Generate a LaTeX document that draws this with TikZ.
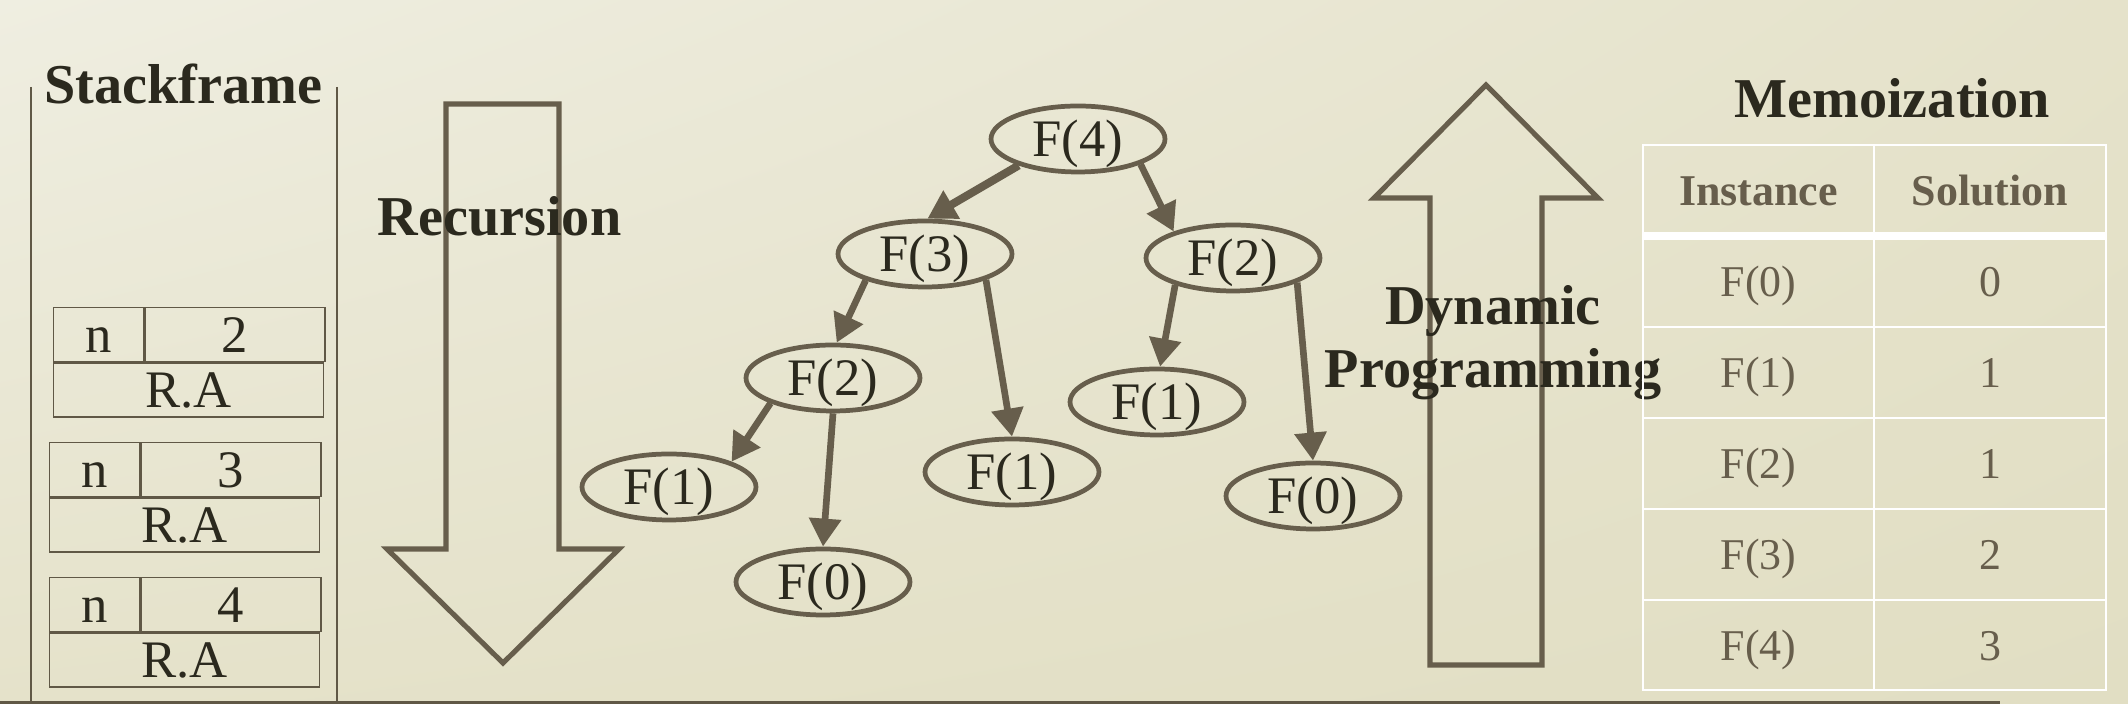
\documentclass[tikz,border=0pt]{standalone}
\usepackage{fontspec}
\setmainfont{Liberation Serif}
\usetikzlibrary{shapes.geometric,arrows.meta,positioning,shadings}
\definecolor{inkline}{RGB}{103,94,76}
\definecolor{inktext}{RGB}{43,41,30}
\definecolor{frameline}{RGB}{96,88,70}
\definecolor{bgA}{RGB}{239,238,225}
\definecolor{bgB}{RGB}{229,226,202}
\definecolor{bgC}{RGB}{225,222,195}
\tikzset{
  fibnode/.style={ellipse,draw=inkline,line width=1.35pt,minimum width=17.4mm,minimum height=6.6mm,inner sep=0pt,text=inktext,font=\fontsize{15pt}{18pt}\selectfont,text height=9.9pt,text depth=0pt},
  fibcall/.style={-{Triangle[length=2.8mm,width=3.1mm]},draw=inkline,line width=1.9pt},
  stackcell/.style={draw=frameline,line width=0.4pt,inner sep=0pt,minimum height=5.4mm,text=inktext,font=\fontsize{15pt}{18pt}\selectfont,text height=9.9pt,text depth=0pt},
  headtext/.style={text=inktext,font=\bfseries\fontsize{16pt}{18.2pt}\selectfont,inner sep=0pt},
  bigarrow/.style={draw=inkline,line width=1.45pt},
  memotext/.style={text=inkline,font=\fontsize{12.5pt}{15pt}\selectfont,inner sep=0pt,text height=8.3pt,text depth=0pt},
  memoline/.style={draw=white,line width=0.75pt}
}
\begin{document}
\begin{tikzpicture}[x=0.1mm,y=0.1mm]
\shade[upper left=bgA,upper right=bgB,lower left=bgB,lower right=bgC] (0,0) rectangle (2128,704);
\useasboundingbox (0,0) rectangle (2128,704);
\draw[frameline,line width=0.85pt] (0,1.5) -- (2000,1.5);
\draw[frameline,line width=0.45pt] (31,617) -- (31,0) (337,617) -- (337,0);
\node[headtext,anchor=base] (stack) at (183.5,600) {Stackframe};
\foreach \v/\x/\y in {2/53/397,3/49/262,4/49/127}{
  \node[stackcell,minimum width=9mm,anchor=north west] (n\v) at (\x,\y) {n};
  \node[stackcell,minimum width=18mm,right=0pt of n\v] (val\v) {\v};
  \node[stackcell,minimum width=27mm,below right=0pt and 0pt of n\v.south west] (ra\v) {R.A};
}
\draw[bigarrow] (446,600) -- (559,600) -- (559,155) -- (619,155) -- (503,41) -- (387,155) -- (446,155) -- cycle;
\node[headtext,anchor=base] (rec) at (499.5,468) {Recursion};
\draw[bigarrow] (1430,39) -- (1542,39) -- (1542,506) -- (1598,506) -- (1486,619) -- (1374,506) -- (1430,506) -- cycle;
\node[headtext,align=center,anchor=base] (dp) at (1493,316) {Dynamic\\Programming};
\node[fibnode] (F4) at (1078,565) {F(4)};
\node[fibnode] (F3) at (925,450) {F(3)};
\node[fibnode] (F2r) at (1233,446) {F(2)};
\node[fibnode] (F2l) at (833,326) {F(2)};
\node[fibnode] (F1m) at (1012,232) {F(1)};
\node[fibnode] (F1r) at (1157,302) {F(1)};
\node[fibnode] (F0r) at (1313,208) {F(0)};
\node[fibnode] (F1l) at (669,217) {F(1)};
\node[fibnode] (F0l) at (823,122) {F(0)};
\draw[fibcall,line width=2.3pt] (F4.204) -- (F3.86);
\draw[fibcall] (F4.-22) -- (F2r.156);
\draw[fibcall] (F3.204) -- (F2l.84);
\draw[fibcall] (F3.-23) -- (F1m.north);
\draw[fibcall] (F2r.205) -- (F1r.85);
\draw[fibcall] (F2r.-21) -- (F0r.north);
\draw[fibcall] (F2l.202) -- (F1l.22);
\draw[fibcall] (F2l.south) -- (F0l.north);
\node[headtext,anchor=base] (memo) at (1892,586) {Memoization};
\draw[memoline] (1643,14) rectangle (2106,559) (1874,14) -- (1874,559);
\foreach \y in {377,286,195,104} \draw[memoline] (1643,\y) -- (2106,\y);
\draw[memoline,line width=2.3pt] (1643,468) -- (2106,468);
\node[memotext,font=\bfseries\fontsize{12.5pt}{15pt}\selectfont] (inst) at (1758.5,513) {Instance};
\node[memotext,font=\bfseries\fontsize{12.5pt}{15pt}\selectfont] (sol) at (1990,513) {Solution};
\foreach \k/\v [count=\i from 0] in {0/0,1/1,2/1,3/2,4/3}{
  \node[memotext] (memk\k) at (1758.5,{422-91*\i}) {F(\k)};
  \node[memotext] (memv\k) at (1990,{422-91*\i}) {\v};
}
\end{tikzpicture}
\end{document}
